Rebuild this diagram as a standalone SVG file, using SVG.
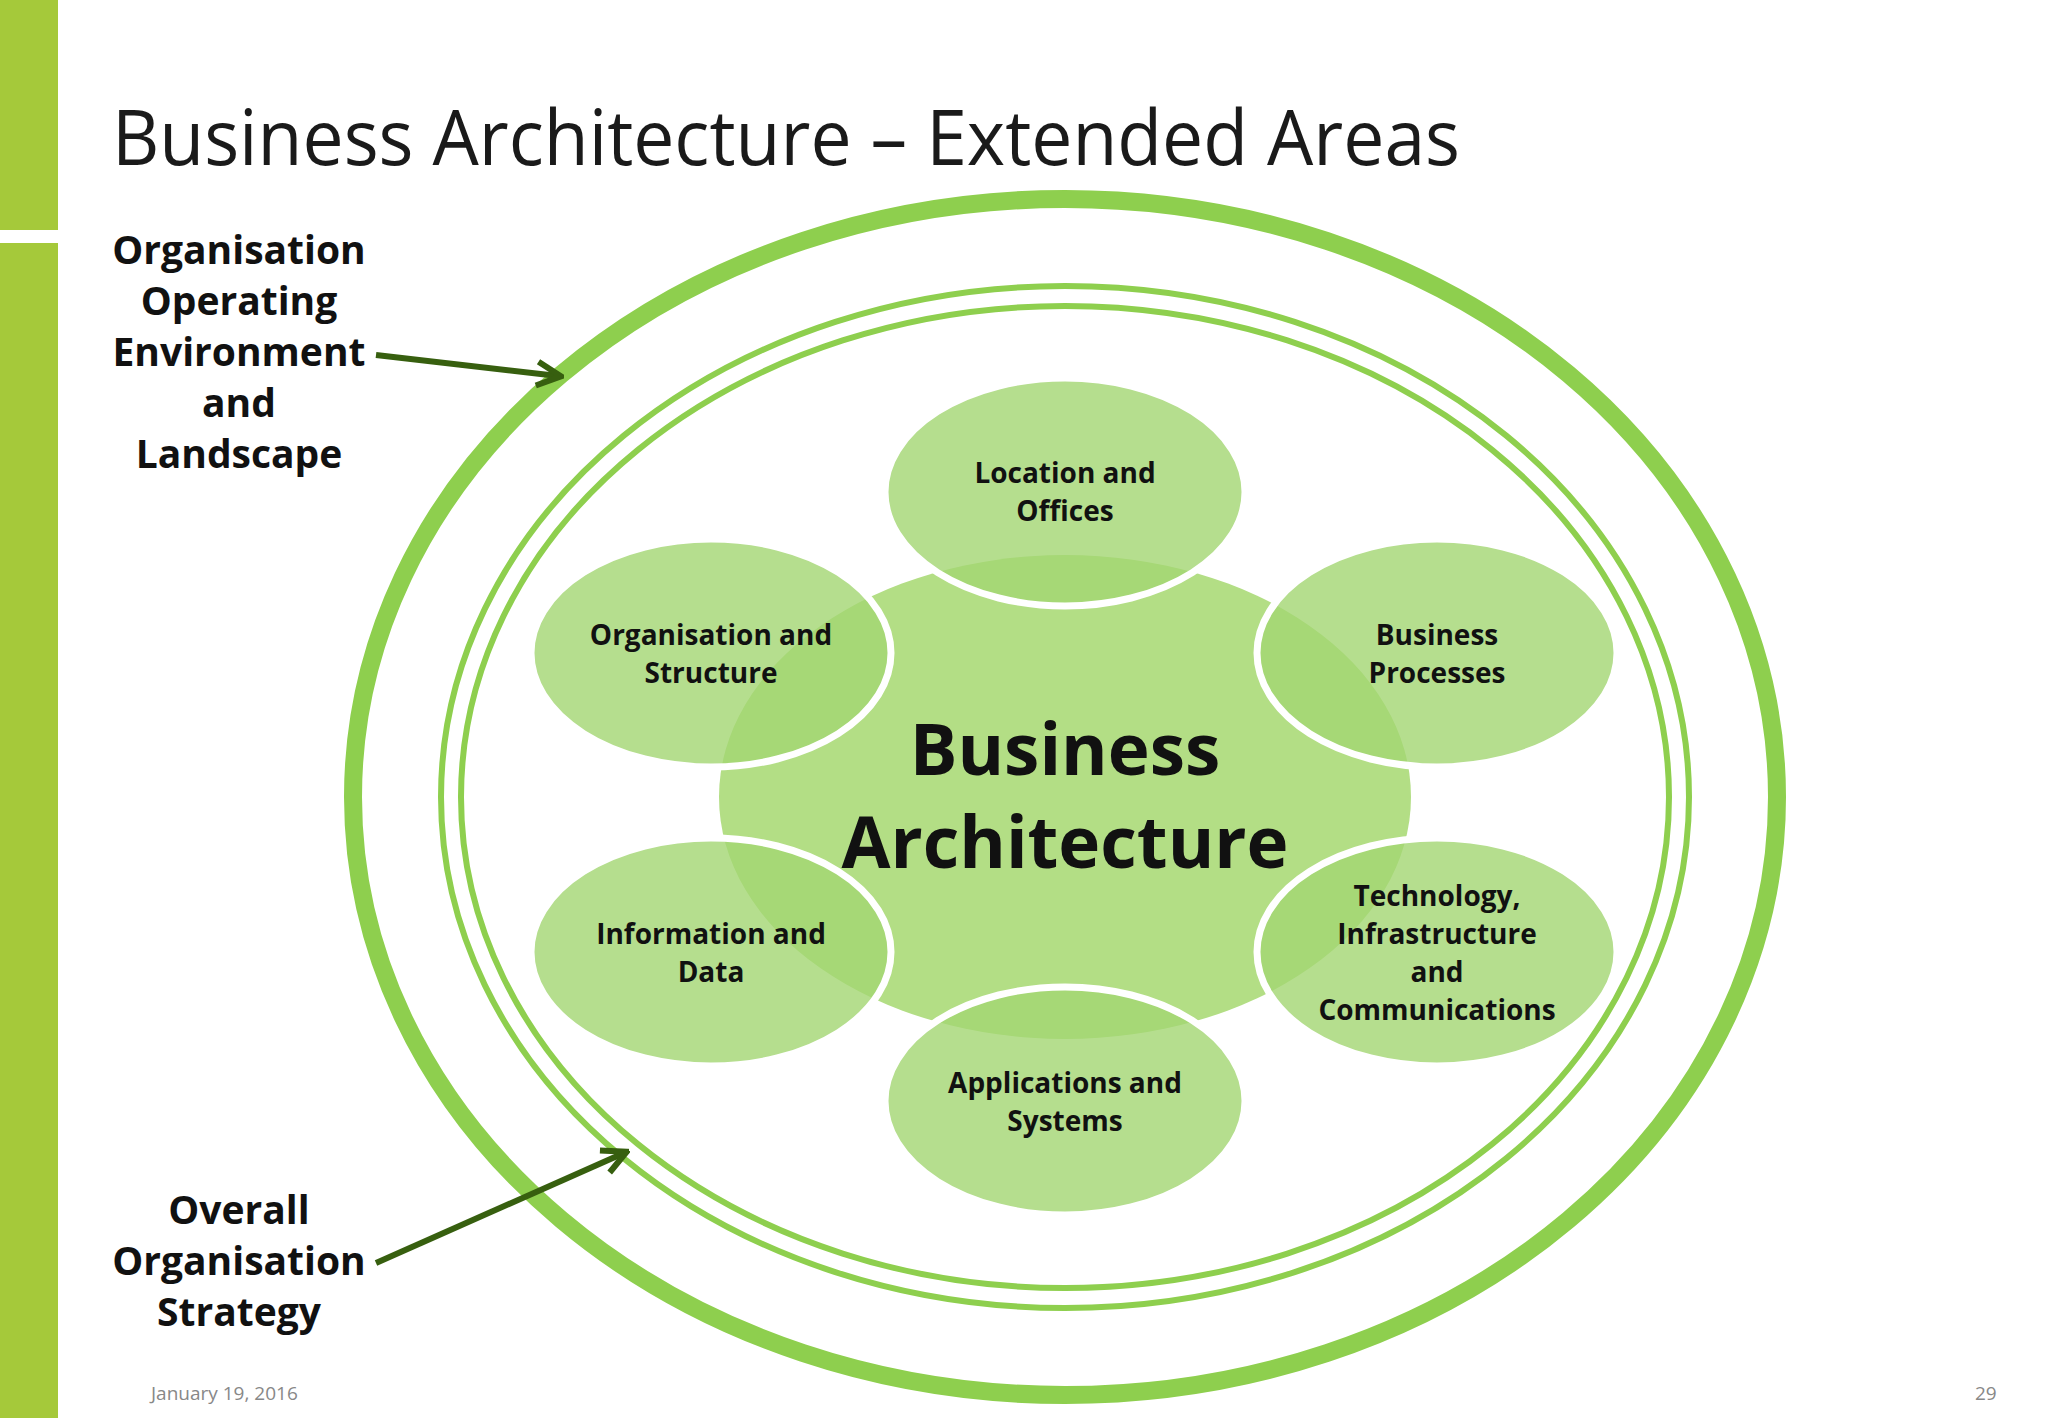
<svg xmlns="http://www.w3.org/2000/svg" width="2048" height="1418" viewBox="0 0 2048 1418">
<style>
.sat{fill:#a3d672;fill-opacity:0.8;stroke:#fff;stroke-width:7}
.st{font-family:"Open Sans","Noto Sans",sans-serif;font-weight:bold;font-size:28px;text-anchor:middle;fill:#111}
.lb{font-family:"Open Sans","Noto Sans",sans-serif;font-weight:bold;font-size:39px;text-anchor:middle;fill:#111}
.ft{font-family:"Open Sans","Noto Sans",sans-serif;font-size:19px;fill:#888}
</style>
<defs><marker id="ah" viewBox="0 0 10 10" refX="8" refY="5" markerWidth="5" markerHeight="5" orient="auto"><path d="M1,1 L9,5 L1,9" fill="none" stroke="#375f0f" stroke-width="2"/></marker></defs>
<rect width="2048" height="1418" fill="#fff"/>
<rect x="0" y="0" width="58" height="230" fill="#a5c93a"/>
<rect x="0" y="243" width="58" height="1175" fill="#a5c93a"/>
<text x="112" y="165" font-family="Open Sans,Noto Sans,sans-serif" font-size="76" fill="#1a1a1a" textLength="1348" lengthAdjust="spacingAndGlyphs">Business Architecture – Extended Areas</text>
<g id="outer"><ellipse cx="1065" cy="797" rx="712" ry="598" fill="none" stroke="#8ecf4e" stroke-width="18"/></g>
<g id="inner"><ellipse cx="1065" cy="797" rx="624" ry="511" fill="none" stroke="#8ecf4e" stroke-width="6"/><ellipse cx="1065" cy="797" rx="604" ry="491" fill="none" stroke="#8ecf4e" stroke-width="6"/></g>
<g id="center"><ellipse cx="1065" cy="797" rx="346" ry="242" fill="#b3de85"/></g>
<g id="n1"><ellipse class="sat" cx="1065" cy="492" rx="180" ry="114"/><text class="st" x="1065" y="483">Location and</text><text class="st" x="1065" y="521">Offices</text></g>
<g id="n2"><ellipse class="sat" cx="711" cy="653" rx="180" ry="114"/><text class="st" x="711" y="645">Organisation and</text><text class="st" x="711" y="683">Structure</text></g>
<g id="n3"><ellipse class="sat" cx="1437" cy="653" rx="180" ry="114"/><text class="st" x="1437" y="645">Business</text><text class="st" x="1437" y="683">Processes</text></g>
<g id="n4"><ellipse class="sat" cx="711" cy="952" rx="180" ry="114"/><text class="st" x="711" y="944">Information and</text><text class="st" x="711" y="982">Data</text></g>
<g id="n5"><ellipse class="sat" cx="1437" cy="952" rx="180" ry="114"/><text class="st" x="1437" y="906">Technology,</text><text class="st" x="1437" y="944">Infrastructure</text><text class="st" x="1437" y="982">and</text><text class="st" x="1437" y="1020">Communications</text></g>
<g id="n6"><ellipse class="sat" cx="1065" cy="1101" rx="180" ry="114"/><text class="st" x="1065" y="1093">Applications and</text><text class="st" x="1065" y="1131">Systems</text></g>
<g id="ctext"><text x="1065" y="775" font-family="Open Sans,Noto Sans,sans-serif" font-weight="bold" font-size="71" text-anchor="middle" fill="#111">Business</text><text x="1065" y="868" font-family="Open Sans,Noto Sans,sans-serif" font-weight="bold" font-size="71" text-anchor="middle" fill="#111">Architecture</text></g>
<g id="l1"><text class="lb" x="239" y="264">Organisation</text><text class="lb" x="239" y="315">Operating</text><text class="lb" x="239" y="366">Environment</text><text class="lb" x="239" y="417">and</text><text class="lb" x="239" y="468">Landscape</text></g>
<g id="l2"><text class="lb" x="239" y="1224">Overall</text><text class="lb" x="239" y="1275">Organisation</text><text class="lb" x="239" y="1326">Strategy</text></g>
<g id="connectors" stroke="#375f0f" stroke-width="6" fill="none"><line x1="376" y1="355" x2="558" y2="376" marker-end="url(#ah)"/><line x1="376" y1="1263" x2="624" y2="1153" marker-end="url(#ah)"/></g>
<text class="ft" x="151" y="1400">January 19, 2016</text>
<text class="ft" x="1975" y="1400">29</text>
</svg>
